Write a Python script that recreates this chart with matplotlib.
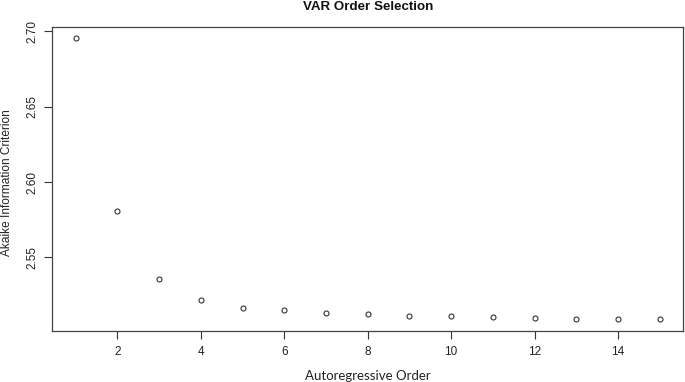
import matplotlib
matplotlib.use("Agg")
import matplotlib.pyplot as plt

orders = [1, 2, 3, 4, 5, 6, 7, 8, 9, 10, 11, 12, 13, 14, 15]
aic = [2.6956, 2.5810, 2.5354, 2.5220, 2.5167, 2.5149, 2.5131, 2.5124,
       2.5115, 2.5109, 2.5102, 2.5098, 2.5095, 2.5093, 2.5089]
xticks = [2, 4, 6, 8, 10, 12, 14]
yticks = [2.55, 2.60, 2.65, 2.70]
ytick_labels = ["2.55", "2.60", "2.65", "2.70"]

plt.rcParams['font.family'] = ['Liberation Sans', 'DejaVu Sans']

fig = plt.figure(figsize=(6.85, 3.82), dpi=100)
ax = fig.add_axes([52.3/685, 1-330.7/382, (683-52.3)/685, (330.7-26.7)/382])

ax.plot(orders, aic, linestyle='none', marker='o', markersize=3.6,
        markerfacecolor='none', markeredgecolor='#333333', markeredgewidth=0.8)

xr = max(orders) - min(orders)
ax.set_xlim(min(orders) - 0.04*xr, max(orders) + 0.04*xr)
yr = max(aic) - min(aic)
ax.set_ylim(min(aic) - 0.04*yr, max(aic) + 0.04*yr)

ax.set_xticks(xticks)
ax.set_xticklabels([str(t) for t in xticks], fontsize=8.5, color='#222222')
ax.set_yticks(yticks)
ax.set_yticklabels(ytick_labels, fontsize=8.5, rotation=90, va='center', color='#222222')
ax.tick_params(direction='out', length=6, width=0.8, color='#333333', pad=5)
ax.tick_params(axis='y', pad=4)
for s in ax.spines.values():
    s.set_linewidth(0.9)
    s.set_color('#444444')

fig.text(368/685, 1-7/382, "VAR Order Selection", fontsize=9.6, fontweight='bold',
         ha='center', va='center', color='#111111')
ax.set_xlabel("Autoregressive Order", fontsize=9.5, family=['Lato', 'DejaVu Sans'],
              color='#222222', labelpad=9)
fig.text(7/685, 1-183/382, "Akaike Information Criterion", fontsize=8.6, rotation=90,
         ha='center', va='center', color='#222222')

fig.savefig("out.png", dpi=100)
